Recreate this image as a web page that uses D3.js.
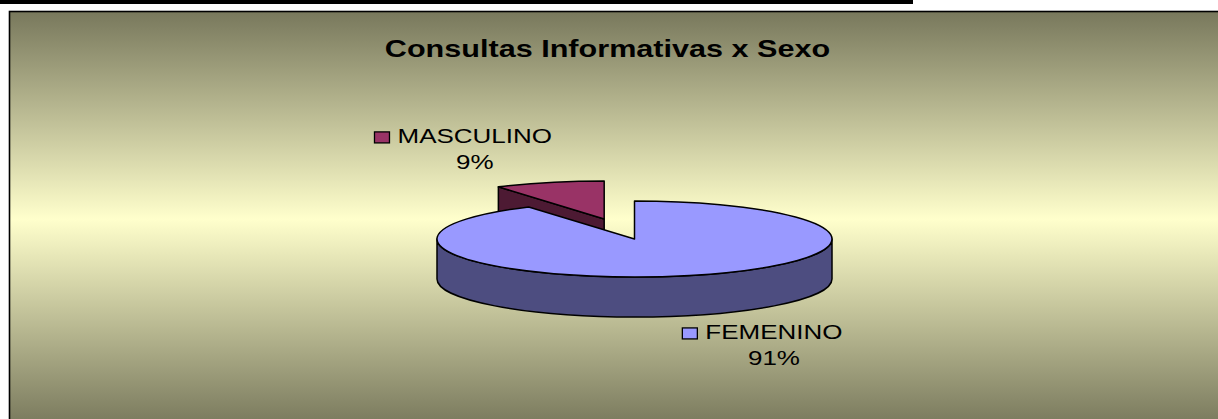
<!DOCTYPE html>
<html>
<head>
<meta charset="utf-8">
<script src="https://cdn.jsdelivr.net/npm/d3@7"></script>
<style>
  html, body { margin: 0; padding: 0; background: #ffffff; }
  svg { display: block; }
</style>
</head>
<body>
<svg id="chart" width="1218" height="419"></svg>
<script>
// ---- data ----
const title = "Consultas Informativas x Sexo";
const categories = ["FEMENINO", "MASCULINO"];
const values = [91, 9];
const explodeAmount = [0, 0.55];

// ---- style ----
const topColors = ["#9999ff", "#993366"];
const sideColors = ["#4d4d80", "#4d1a33"];

const W = 1218, H = 419;
const svg = d3.select("#chart");

// gradient background
const defs = svg.append("defs");
const grad = defs.append("linearGradient").attr("id", "bg")
  .attr("x1", 0).attr("y1", 0).attr("x2", 0).attr("y2", 1);
grad.append("stop").attr("offset", "0%").attr("stop-color", "#78785c");
grad.append("stop").attr("offset", "50%").attr("stop-color", "#ffffcc");
grad.append("stop").attr("offset", "100%").attr("stop-color", "#78785c");

// top black rule
svg.append("rect").attr("x", 0).attr("y", 0).attr("width", 913).attr("height", 4).attr("fill", "#000");

// chart area (extends past the right and bottom edges)
svg.append("rect").attr("x", 9.5).attr("y", 11.5).attr("width", W + 40).attr("height", H - 4)
  .attr("fill", "url(#bg)").attr("stroke", "#000").attr("stroke-width", 1.6);

// title
const SX = 1.275;
svg.append("text")
  .attr("transform", `translate(607.5,57) scale(${SX},1)`)
  .attr("text-anchor", "middle")
  .attr("font-family", "Liberation Sans, Arial, sans-serif")
  .attr("font-weight", "bold")
  .attr("font-size", 24)
  .attr("fill", "#000")
  .text(title);

// ---- 3D pie ----
const cx = 634.5, cy = 239, Rx = 197.5, Ry = 38, depth = 40;
const pie = d3.pie().sort(null).startAngle(0).endAngle(2 * Math.PI).value(d => d);
const arcs = pie(values).map((a, i) => {
  const mid = (a.startAngle + a.endAngle) / 2;
  const e = explodeAmount[i];
  return Object.assign(a, {
    i, mid,
    ox: cx + e * Rx * Math.sin(mid),
    oy: cy - e * Ry * Math.cos(mid)
  });
});
const total = d3.sum(values);

function pt(a, ox, oy, dy = 0) {
  return [ox + Rx * Math.sin(a), oy - Ry * Math.cos(a) + dy];
}

const g = svg.append("g")
  .attr("stroke", "#000").attr("stroke-width", 1.5).attr("stroke-linejoin", "round");

// draw back slices first
const order = arcs.slice().sort((a, b) => Math.cos(b.mid) - Math.cos(a.mid));

order.forEach(s => {
  const { startAngle: a0, endAngle: a1, ox, oy, i } = s;
  // radial side faces
  const faces = [];
  if (Math.sin(a0) < -1e-6) faces.push(a0);
  if (Math.sin(a1) > 1e-6) faces.push(a1);
  faces.forEach(a => {
    const p = pt(a, ox, oy), pd = pt(a, ox, oy, depth);
    const path = d3.path();
    path.moveTo(ox, oy);
    path.lineTo(p[0], p[1]);
    path.lineTo(pd[0], pd[1]);
    path.lineTo(ox, oy + depth);
    path.closePath();
    g.append("path").attr("d", path.toString()).attr("fill", sideColors[i]);
  });
  // outer wall (front half only)
  const s0 = Math.max(a0, Math.PI / 2), s1 = Math.min(a1, 3 * Math.PI / 2);
  if (s0 < s1) {
    const p0 = pt(s0, ox, oy), p1 = pt(s1, ox, oy);
    const large = (s1 - s0) > Math.PI ? 1 : 0;
    const d = `M${p0[0]},${p0[1]} A${Rx},${Ry} 0 ${large} 1 ${p1[0]},${p1[1]}` +
      ` L${p1[0]},${p1[1] + depth} A${Rx},${Ry} 0 ${large} 0 ${p0[0]},${p0[1] + depth} Z`;
    g.append("path").attr("d", d).attr("fill", sideColors[i]);
  }
  // top face
  const p0 = pt(a0, ox, oy), p1 = pt(a1, ox, oy);
  const large = (a1 - a0) > Math.PI ? 1 : 0;
  const d = `M${ox},${oy} L${p0[0]},${p0[1]} A${Rx},${Ry} 0 ${large} 1 ${p1[0]},${p1[1]} Z`;
  g.append("path").attr("d", d).attr("fill", topColors[i]);
});

// ---- labels ----
const LSX = 1.3, lkx = 2.44, lky = 1.96, labelShiftX = 5;
arcs.forEach(s => {
  const front = Math.cos(s.mid) < 0;
  const lx = s.ox + Rx * lkx * Math.sin(s.mid) + labelShiftX;
  const ly = s.oy - Ry * lky * Math.cos(s.mid) + (front ? depth * 0.86 : 1.5);
  const lg = svg.append("g");
  const t1 = lg.append("text")
    .attr("transform", `translate(${lx},${ly - 6}) scale(${LSX},1)`)
    .attr("text-anchor", "middle")
    .attr("font-family", "Liberation Sans, Arial, sans-serif")
    .attr("font-size", 20).attr("fill", "#000")
    .text(categories[s.i]);
  lg.append("text")
    .attr("transform", `translate(${lx},${ly + 20}) scale(${LSX},1)`)
    .attr("text-anchor", "middle")
    .attr("font-family", "Liberation Sans, Arial, sans-serif")
    .attr("font-size", 20).attr("fill", "#000")
    .text(Math.round(values[s.i] / total * 100) + "%");
  const tw = t1.node().getComputedTextLength() * LSX;
  lg.append("rect")
    .attr("x", lx - tw / 2 - 8 - 15).attr("y", ly - 6 - 11)
    .attr("width", 15).attr("height", 11)
    .attr("fill", topColors[s.i]).attr("stroke", "#000").attr("stroke-width", 1.3);
});
</script>
</body>
</html>
